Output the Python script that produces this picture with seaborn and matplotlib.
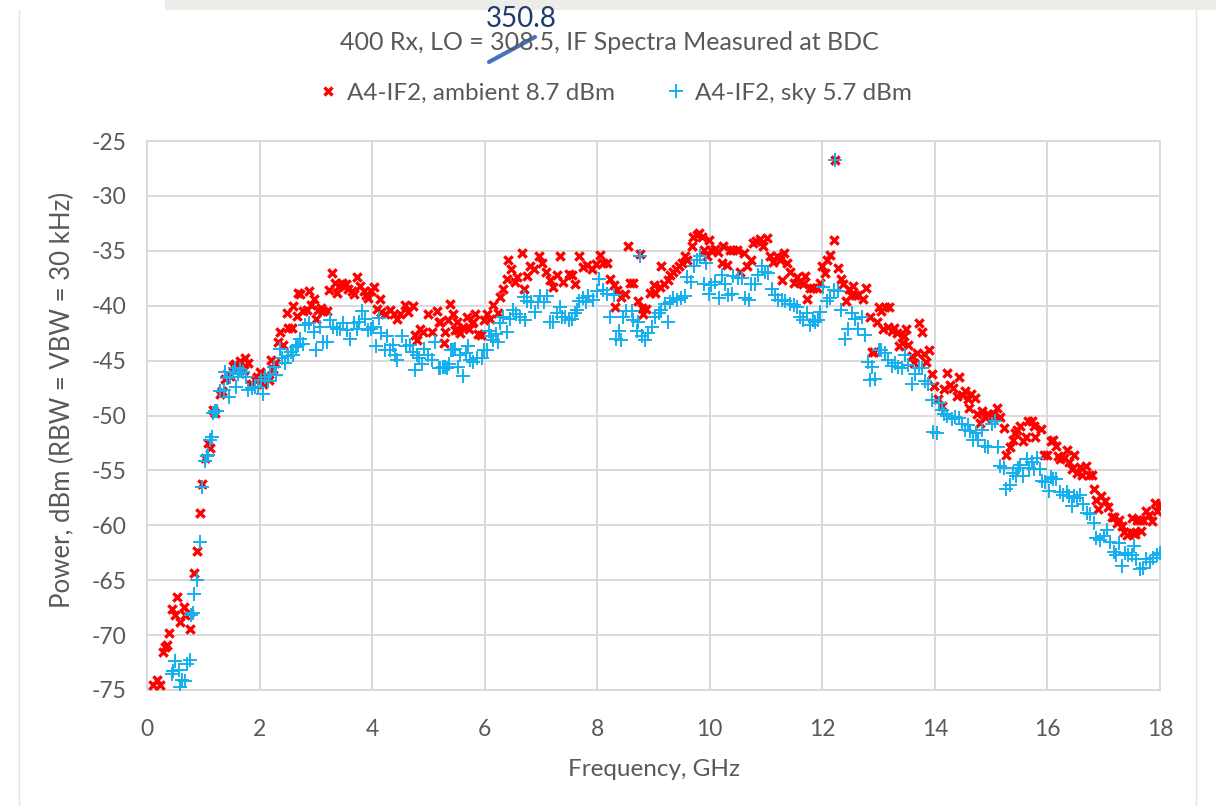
import matplotlib
matplotlib.use("Agg")
import pandas as pd
import matplotlib.pyplot as plt
from matplotlib.lines import Line2D
from matplotlib.patches import Rectangle
import seaborn as sns

# (frequency GHz, power dBm)
ambient_pts = [
    (0.11, -74.5), (0.17, -74.1), (0.23, -74.5), (0.29, -71.5), (0.32, -71.1), (0.35, -70.9), (0.39, -69.8),
    (0.45, -67.6), (0.50, -68.2), (0.53, -66.5), (0.59, -68.8), (0.66, -67.4), (0.68, -68.2), (0.75, -68.0),
    (0.76, -69.4), (0.84, -64.3), (0.89, -62.3), (0.94, -58.9), (0.98, -56.2), (1.03, -53.9), (1.09, -52.5),
    (1.12, -53.0), (1.18, -49.5), (1.21, -49.8), (1.30, -48.0), (1.33, -47.8), (1.39, -46.7), (1.43, -46.2),
    (1.47, -46.4), (1.53, -45.5), (1.56, -45.3), (1.62, -45.8), (1.66, -45.0), (1.72, -45.9), (1.74, -44.8),
    (1.79, -45.2), (1.83, -47.2), (1.86, -47.1), (1.92, -46.8), (1.95, -46.5), (2.01, -46.0), (2.07, -47.1),
    (2.12, -46.3), (2.16, -46.8), (2.20, -44.9), (2.24, -45.8), (2.28, -45.2), (2.33, -43.3), (2.37, -42.4),
    (2.41, -43.6), (2.49, -40.7), (2.51, -42.0), (2.57, -42.0), (2.60, -40.0), (2.66, -40.9), (2.69, -38.8),
    (2.72, -38.9), (2.78, -40.5), (2.84, -40.4), (2.87, -38.7), (2.91, -39.9), (2.96, -39.4), (3.00, -41.2),
    (3.04, -40.4), (3.09, -40.2), (3.13, -40.5), (3.19, -40.5), (3.24, -38.6), (3.28, -37.0), (3.34, -37.9),
    (3.38, -38.8), (3.42, -38.2), (3.46, -37.9), (3.49, -38.2), (3.53, -38.0), (3.58, -38.5), (3.64, -38.7),
    (3.68, -38.9), (3.74, -37.4), (3.79, -38.2), (3.85, -38.7), (3.90, -39.0), (3.93, -39.3), (3.98, -38.7),
    (4.03, -38.3), (4.09, -40.3), (4.14, -39.4), (4.15, -40.6), (4.23, -40.8), (4.31, -40.4), (4.39, -40.8),
    (4.45, -41.2), (4.50, -40.8), (4.59, -39.9), (4.63, -40.6), (4.73, -40.0), (4.76, -42.7), (4.80, -43.1),
    (4.85, -42.1), (4.91, -42.4), (5.00, -40.8), (5.06, -42.4), (5.16, -40.5), (5.18, -41.5), (5.21, -41.5),
    (5.27, -43.4), (5.30, -42.4), (5.35, -41.3), (5.38, -39.8), (5.44, -40.8), (5.47, -42.2), (5.50, -41.5),
    (5.53, -42.2), (5.56, -42.5), (5.62, -41.9), (5.68, -41.0), (5.72, -42.1), (5.77, -41.6), (5.80, -41.5),
    (5.83, -40.8), (5.89, -42.6), (5.93, -42.7), (5.98, -41.3), (6.04, -40.8), (6.09, -41.2), (6.15, -39.9),
    (6.24, -40.7), (6.28, -39.2), (6.33, -38.5), (6.39, -37.6), (6.42, -35.8), (6.46, -36.7), (6.54, -37.8),
    (6.58, -37.4), (6.66, -35.2), (6.70, -38.5), (6.76, -37.3), (6.81, -36.4), (6.88, -36.7), (6.97, -35.5),
    (7.01, -36.1), (7.09, -36.9), (7.16, -37.7), (7.22, -38.3), (7.29, -37.2), (7.33, -35.5), (7.40, -37.8),
    (7.49, -37.1), (7.55, -37.2), (7.61, -38.0), (7.68, -35.5), (7.74, -36.5), (7.81, -36.3), (7.90, -36.7),
    (7.98, -36.2), (8.05, -35.4), (8.10, -36.1), (8.17, -36.1), (8.23, -37.6), (8.29, -38.1), (8.32, -40.1),
    (8.35, -38.6), (8.43, -39.2), (8.49, -38.9), (8.55, -34.6), (8.58, -37.9), (8.64, -37.9), (8.73, -39.6),
    (8.76, -35.3), (8.79, -40.2), (8.82, -40.8), (8.87, -40.3), (8.94, -38.8), (9.00, -38.1), (9.03, -38.8),
    (9.12, -38.3), (9.13, -36.4), (9.19, -38.0), (9.26, -37.7), (9.29, -37.2), (9.35, -36.9), (9.40, -36.7),
    (9.45, -36.4), (9.50, -36.1), (9.56, -35.5), (9.59, -35.8), (9.68, -34.6), (9.71, -33.7), (9.77, -33.6),
    (9.81, -33.4), (9.86, -33.7), (9.89, -34.9), (9.95, -35.5), (9.98, -34.0), (10.03, -34.9), (10.09, -34.8),
    (10.15, -35.1), (10.21, -36.1), (10.24, -34.6), (10.30, -36.3), (10.36, -34.9), (10.42, -34.9),
    (10.48, -34.9), (10.54, -36.9), (10.60, -35.2), (10.66, -36.4), (10.74, -35.8), (10.77, -34.3),
    (10.83, -34.1), (10.89, -33.9), (10.95, -34.6), (11.01, -33.8), (11.07, -35.5), (11.13, -36.0),
    (11.19, -35.5), (11.25, -35.8), (11.28, -37.7), (11.31, -35.2), (11.37, -36.1), (11.43, -36.9),
    (11.49, -37.9), (11.55, -37.4), (11.60, -37.8), (11.65, -38.0), (11.69, -37.3), (11.72, -39.4),
    (11.78, -38.4), (11.84, -38.4), (11.90, -38.4), (11.96, -37.9), (11.99, -36.4), (12.05, -37.0),
    (12.09, -35.8), (12.14, -35.4), (12.20, -34.0), (12.23, -26.7), (12.28, -36.6), (12.33, -37.6),
    (12.37, -38.0), (12.42, -39.6), (12.48, -38.5), (12.51, -39.0), (12.54, -38.2), (12.58, -39.0),
    (12.64, -39.0), (12.72, -39.4), (12.78, -38.4), (12.84, -41.0), (12.88, -44.2), (12.92, -44.2),
    (12.97, -41.5), (13.00, -40.1), (13.05, -40.5), (13.08, -42.1), (13.11, -40.1), (13.16, -41.9),
    (13.19, -40.1), (13.23, -42.3), (13.28, -42.0), (13.32, -42.5), (13.37, -43.7), (13.41, -43.4),
    (13.45, -42.8), (13.49, -42.1), (13.53, -43.6), (13.59, -44.6), (13.63, -45.2), (13.68, -44.3),
    (13.72, -41.6), (13.77, -42.4), (13.81, -44.4), (13.85, -45.1), (13.90, -44.0), (13.94, -46.2),
    (13.98, -47.3), (14.06, -48.5), (14.12, -49.1), (14.16, -47.6), (14.21, -46.1), (14.27, -47.2),
    (14.33, -47.5), (14.39, -48.2), (14.43, -46.5), (14.48, -48.1), (14.53, -47.8), (14.59, -48.5),
    (14.61, -49.3), (14.65, -48.0), (14.71, -48.4), (14.75, -49.9), (14.80, -50.7), (14.83, -49.6),
    (14.89, -50.1), (14.95, -49.9), (15.01, -50.2), (15.04, -49.9), (15.11, -49.3), (15.16, -50.1),
    (15.22, -51.1), (15.27, -53.6), (15.33, -52.9), (15.38, -52.2), (15.42, -51.6), (15.46, -51.3),
    (15.51, -51.0), (15.57, -52.3), (15.62, -52.0), (15.66, -50.5), (15.72, -50.5), (15.76, -51.0),
    (15.78, -52.0), (15.88, -51.2), (15.93, -53.6), (15.99, -53.6), (16.06, -52.3), (16.10, -52.2),
    (16.15, -52.8), (16.19, -53.7), (16.23, -54.0), (16.29, -53.9), (16.34, -53.1), (16.39, -54.2),
    (16.43, -54.9), (16.48, -53.6), (16.52, -55.2), (16.57, -54.7), (16.61, -55.4), (16.69, -54.6),
    (16.73, -55.4), (16.79, -55.4), (16.83, -56.7), (16.87, -57.7), (16.90, -58.5), (16.96, -57.3),
    (17.02, -57.8), (17.08, -58.3), (17.14, -59.2), (17.19, -59.2), (17.23, -59.8), (17.28, -59.5),
    (17.32, -60.1), (17.36, -60.6), (17.41, -60.9), (17.46, -60.6), (17.50, -59.3), (17.52, -60.7),
    (17.56, -60.8), (17.60, -59.5), (17.64, -59.5), (17.67, -60.5), (17.70, -59.5), (17.76, -58.7),
    (17.81, -59.1), (17.85, -59.6), (17.91, -58.0), (17.95, -58.7), (18.00, -58.1),
]

sky_pts = [
    (0.44, -73.5), (0.47, -73.3), (0.50, -72.4), (0.56, -73.2), (0.59, -74.7), (0.62, -74.1), (0.68, -74.2),
    (0.71, -72.6), (0.76, -72.3), (0.79, -68.2), (0.82, -68.0), (0.84, -66.3), (0.88, -65.0), (0.94, -61.5),
    (0.98, -56.5), (1.03, -54.1), (1.06, -53.7), (1.09, -53.6), (1.12, -52.2), (1.15, -52.0), (1.18, -49.8),
    (1.21, -49.6), (1.24, -49.6), (1.30, -47.8), (1.36, -47.7), (1.39, -46.0), (1.42, -46.6), (1.45, -48.3),
    (1.47, -46.5), (1.52, -46.0), (1.56, -45.7), (1.59, -47.4), (1.62, -46.2), (1.66, -45.8), (1.71, -46.0),
    (1.76, -46.5), (1.80, -47.7), (1.86, -47.5), (1.92, -47.4), (1.98, -47.4), (2.03, -46.8), (2.07, -48.0),
    (2.10, -46.5), (2.15, -46.9), (2.19, -46.2), (2.25, -45.6), (2.30, -46.3), (2.36, -43.9), (2.40, -44.8),
    (2.45, -45.2), (2.51, -44.6), (2.55, -44.2), (2.60, -44.5), (2.64, -43.8), (2.69, -43.6), (2.72, -43.0),
    (2.77, -43.5), (2.81, -41.8), (2.88, -41.6), (2.96, -42.4), (3.00, -44.0), (3.07, -41.9), (3.13, -43.3),
    (3.19, -43.3), (3.26, -41.3), (3.31, -41.9), (3.37, -42.1), (3.43, -42.1), (3.49, -41.6), (3.55, -42.2),
    (3.61, -43.0), (3.67, -41.6), (3.73, -42.1), (3.77, -41.5), (3.82, -40.5), (3.87, -41.2), (3.93, -42.2),
    (3.98, -42.1), (4.02, -41.9), (4.07, -43.7), (4.13, -41.1), (4.15, -42.5), (4.23, -44.0), (4.26, -42.8),
    (4.32, -44.0), (4.37, -43.6), (4.41, -44.5), (4.45, -44.9), (4.53, -42.8), (4.60, -43.7), (4.67, -43.6),
    (4.72, -44.2), (4.76, -45.9), (4.79, -44.5), (4.84, -44.8), (4.88, -45.3), (4.92, -43.9), (5.00, -44.5),
    (5.06, -44.9), (5.12, -43.3), (5.18, -45.7), (5.21, -45.7), (5.26, -45.6), (5.29, -45.6), (5.33, -45.7),
    (5.36, -45.3), (5.40, -44.0), (5.43, -44.0), (5.47, -43.9), (5.53, -45.6), (5.56, -44.5), (5.62, -46.4),
    (5.67, -44.3), (5.71, -43.7), (5.74, -44.9), (5.80, -45.1), (5.86, -44.8), (5.95, -44.8), (5.98, -44.0),
    (6.04, -44.0), (6.07, -42.3), (6.12, -42.8), (6.15, -43.1), (6.20, -42.6), (6.24, -43.3), (6.27, -41.6),
    (6.33, -41.0), (6.39, -42.4), (6.45, -41.2), (6.51, -40.4), (6.56, -40.8), (6.63, -41.0), (6.70, -39.2),
    (6.72, -41.3), (6.76, -39.6), (6.82, -39.7), (6.89, -40.6), (6.94, -39.7), (6.98, -39.1), (7.05, -39.7),
    (7.10, -39.1), (7.16, -41.5), (7.22, -41.5), (7.28, -40.7), (7.33, -40.1), (7.37, -41.0), (7.43, -41.0),
    (7.49, -41.3), (7.55, -41.2), (7.61, -40.7), (7.64, -40.4), (7.68, -39.6), (7.74, -39.3), (7.80, -39.7),
    (7.84, -39.1), (7.93, -39.5), (7.99, -38.7), (8.04, -37.6), (8.11, -38.6), (8.17, -38.9), (8.23, -41.0),
    (8.29, -39.0), (8.33, -43.0), (8.38, -42.3), (8.43, -43.1), (8.46, -41.0), (8.52, -40.5), (8.61, -40.5),
    (8.64, -41.3), (8.70, -42.3), (8.73, -41.5), (8.76, -35.5), (8.79, -42.8), (8.85, -43.1), (8.91, -42.5),
    (8.97, -41.9), (9.03, -41.0), (9.09, -40.7), (9.13, -40.4), (9.21, -39.8), (9.26, -41.5), (9.29, -39.7),
    (9.35, -39.3), (9.42, -39.5), (9.48, -39.3), (9.56, -39.1), (9.60, -37.4), (9.66, -37.8), (9.72, -36.4),
    (9.78, -35.8), (9.83, -35.5), (9.89, -38.0), (9.93, -36.1), (9.98, -38.9), (10.03, -38.1), (10.09, -37.8),
    (10.17, -39.3), (10.21, -37.2), (10.27, -38.0), (10.33, -39.0), (10.39, -38.9), (10.42, -37.3),
    (10.51, -37.5), (10.57, -37.5), (10.63, -39.3), (10.69, -39.5), (10.74, -38.0), (10.80, -38.0),
    (10.86, -37.2), (10.92, -36.4), (10.98, -36.9), (11.04, -37.0), (11.10, -38.5), (11.16, -39.0),
    (11.22, -39.5), (11.28, -39.5), (11.34, -39.6), (11.43, -39.8), (11.49, -39.9), (11.55, -40.1),
    (11.60, -41.0), (11.66, -41.3), (11.72, -40.7), (11.78, -41.8), (11.84, -41.3), (11.87, -41.5),
    (11.93, -41.3), (11.96, -40.6), (12.02, -38.3), (12.08, -39.6), (12.14, -39.3), (12.20, -38.6),
    (12.23, -26.7), (12.28, -38.7), (12.34, -40.4), (12.40, -43.0), (12.46, -42.1), (12.52, -40.7),
    (12.58, -41.2), (12.64, -42.1), (12.70, -41.0), (12.76, -42.7), (12.82, -45.1), (12.85, -46.8),
    (12.88, -45.6), (12.94, -46.7), (13.00, -44.0), (13.05, -44.0), (13.11, -44.3), (13.17, -44.9),
    (13.23, -45.5), (13.29, -45.2), (13.35, -45.6), (13.41, -45.7), (13.47, -44.5), (13.53, -45.4),
    (13.59, -47.1), (13.65, -46.2), (13.71, -45.7), (13.77, -45.7), (13.82, -46.9), (13.88, -47.1),
    (13.94, -48.6), (13.97, -51.5), (14.04, -51.6), (14.08, -48.9), (14.12, -49.5), (14.16, -49.9),
    (14.21, -50.0), (14.30, -50.3), (14.36, -50.1), (14.42, -50.2), (14.48, -50.8), (14.53, -51.3),
    (14.58, -50.9), (14.62, -51.4), (14.68, -52.2), (14.73, -51.6), (14.77, -52.2), (14.83, -51.3),
    (14.89, -52.8), (14.95, -52.9), (15.01, -50.8), (15.07, -50.5), (15.13, -52.9), (15.16, -54.6),
    (15.22, -54.8), (15.27, -56.7), (15.33, -56.3), (15.39, -55.2), (15.44, -55.5), (15.48, -54.8),
    (15.52, -54.5), (15.57, -55.5), (15.63, -54.0), (15.68, -54.8), (15.72, -54.2), (15.76, -54.9),
    (15.81, -53.9), (15.87, -54.9), (15.91, -56.0), (15.96, -56.1), (16.02, -56.9), (16.06, -55.6),
    (16.10, -55.8), (16.16, -55.8), (16.22, -57.0), (16.28, -57.2), (16.34, -57.0), (16.39, -57.3),
    (16.43, -58.2), (16.47, -57.3), (16.52, -57.5), (16.58, -57.2), (16.64, -58.1), (16.71, -58.9),
    (16.76, -59.0), (16.82, -59.8), (16.87, -61.2), (16.93, -61.3), (17.00, -61.0), (17.05, -60.4),
    (17.11, -61.5), (17.18, -62.4), (17.22, -62.7), (17.28, -61.6), (17.32, -63.7), (17.38, -62.5),
    (17.44, -62.7), (17.50, -62.7), (17.54, -61.9), (17.58, -63.1), (17.65, -64.0), (17.70, -63.9),
    (17.76, -63.1), (17.82, -63.3), (17.88, -63.0), (17.94, -62.7), (18.00, -62.5),
]

series_names = ["A4-IF2, ambient 8.7 dBm", "A4-IF2, sky 5.7 dBm"]
x_ticks = list(range(0, 19, 2))
y_ticks = list(range(-75, -24, 5))

TEXT = "#595959"
GRID = "#D9D9D9"
RED = "#FF0000"
BLUE = "#14B0EE"

sns.set_style("white")
plt.rcParams["font.family"] = ["Lato", "DejaVu Sans"]
plt.rcParams["axes.unicode_minus"] = False

amb = pd.DataFrame(ambient_pts, columns=["ghz", "dbm"])
sky = pd.DataFrame(sky_pts, columns=["ghz", "dbm"])

W, H = 1216, 806
fig = plt.figure(figsize=(W / 100, H / 100), dpi=100)
ax = fig.add_axes([147 / W, 1 - 690 / H, (1160 - 147) / W, (690 - 141) / H])

sns.scatterplot(data=amb, x="ghz", y="dbm", marker="x", color=RED, s=36, linewidth=2.4, ax=ax, zorder=3)
sns.scatterplot(data=sky, x="ghz", y="dbm", marker="+", color=BLUE, s=115, linewidth=1.4, ax=ax, zorder=4)

ax.set_xlim(0, 18)
ax.set_ylim(-75, -25)
ax.set_xticks(x_ticks)
ax.set_yticks(y_ticks)
ax.grid(True, color=GRID, lw=1.4)
ax.set_axisbelow(True)
for sp in ax.spines.values():
    sp.set_color(GRID)
    sp.set_linewidth(1.4)
ax.tick_params(length=0, labelsize=16.5, labelcolor=TEXT)
ax.tick_params(axis="x", pad=21)
ax.tick_params(axis="y", pad=15)
ax.set_xlabel("")
ax.set_ylabel("")

# titles and axis labels placed like the Excel chart
fig.text(609 / W, 1 - 42 / H, "400 Rx, LO = 308.5, IF Spectra Measured at BDC",
         ha="center", va="center", fontsize=18, color=TEXT)
fig.text(654 / W, 1 - 769 / H, "Frequency, GHz", ha="center", va="center", fontsize=17.5, color=TEXT)
fig.text(62 / W, 1 - 400 / H, "Power, dBm (RBW = VBW = 30 kHz)", ha="center", va="center",
         rotation=90, fontsize=18.5, color=TEXT)

handles = [
    Line2D([], [], ls="none", marker="x", color=RED, markersize=5.5, markeredgewidth=2.4),
    Line2D([], [], ls="none", marker="+", color=BLUE, markersize=9.5, markeredgewidth=1.4),
]
fig.legend(handles, series_names, loc="center", bbox_to_anchor=(614 / W, 1 - 93 / H), ncol=2,
           frameon=False, fontsize=17.5, labelcolor=TEXT, handletextpad=0.3, columnspacing=2.0,
           handlelength=1.0)

# handwritten correction over the LO value
fig.text(521 / W, 1 - 19 / H, "350.8", ha="center", va="center", fontsize=20, color="#1F3A6E")
fig.add_artist(Line2D([489 / W, 535 / W], [1 - 62 / H, 1 - 37 / H], color="#4472C4", lw=3,
                      solid_capstyle="round"))

# screenshot frame remnants
fig.add_artist(Rectangle((165 / W, 1 - 10 / H), 1, 10 / H, color="#EEECE9", lw=0))
fig.add_artist(Line2D([19 / W, 19 / W], [0, 1 - 10 / H], color="#E3E3E3", lw=1))
fig.add_artist(Line2D([1196 / W, 1196 / W], [0, 1 - 10 / H], color="#E3E3E3", lw=1))

fig.savefig("out.png", dpi=100)
